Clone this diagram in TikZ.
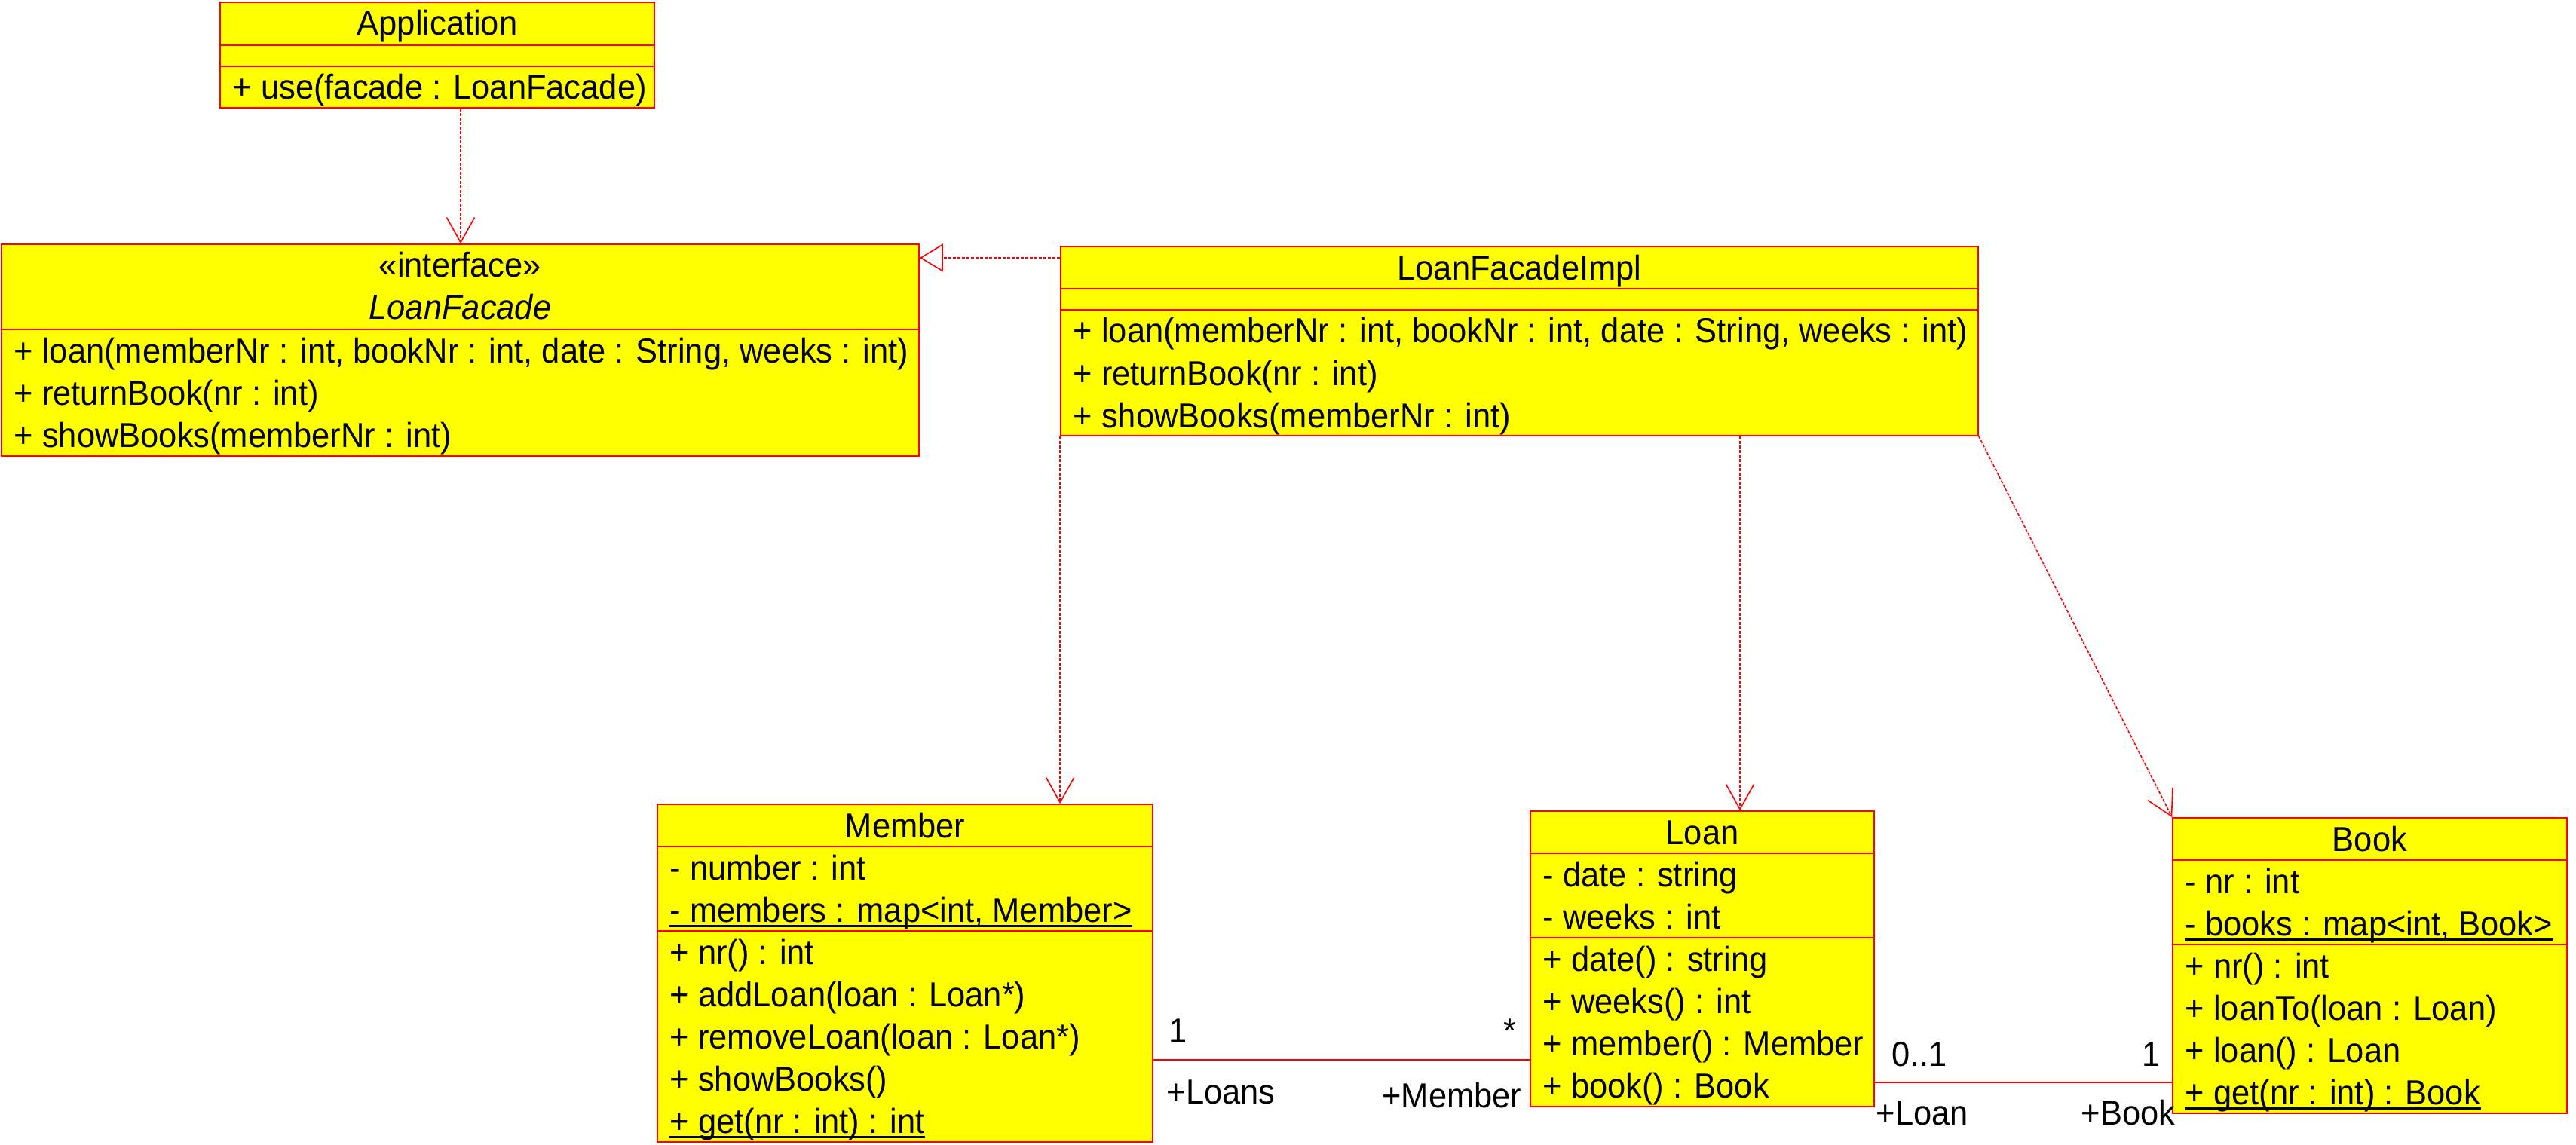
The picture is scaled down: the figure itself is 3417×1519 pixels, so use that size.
\documentclass[tikz,border=0pt]{standalone}
\usepackage{fontspec}
\setmainfont[FakeStretch=0.945]{Liberation Sans}
\usetikzlibrary{arrows.meta,fit}
\definecolor{umlred}{RGB}{255,0,0}
\definecolor{umlyellow}{RGB}{255,255,0}
\newcommand\umlfont{\fontsize{11.5pt}{13pt}\selectfont}
\begin{document}
\begin{tikzpicture}[x=0.25pt,y=-0.25pt,
 umlcls/.style={draw=umlred, fill=umlyellow, line width=0.4pt, inner sep=0pt},
 umlsep/.style={draw=umlred, line width=0.4pt},
 umltxt/.style={inner sep=0pt, anchor=base west, font=\umlfont, text=black},
 umlctxt/.style={inner sep=0pt, anchor=base, font=\umlfont, text=black},
 umlul/.style={line width=0.7pt, draw=black},
 umldep/.style={draw=umlred, line width=0.4pt, dash pattern=on 1pt off 0.5pt, -{Straight Barb[length=8.25pt,width=9.25pt]}},
 umlreal/.style={draw=umlred, line width=0.4pt, dash pattern=on 1pt off 0.5pt, -{Triangle[open,length=7.75pt,width=9.25pt]}},
 umlassoc/.style={draw=umlred, line width=0.4pt}]
\fill[white] (0,0) rectangle (3417,1519);
\useasboundingbox (0,0) rectangle (3417,1519);

% ---------- Application ----------
\node[umlcls, fit={(292,3) (868,143)}] (app) {};
\draw[umlsep] (app.west |- 0,60) -- (app.east |- 0,60);
\draw[umlsep] (app.west |- 0,88) -- (app.east |- 0,88);
\node[umlctxt] (appname) at (580,47) {Application};
\node[umltxt] (appm1) at (308,132) {+ use(facade : LoanFacade)};

% ---------- LoanFacade ----------
\node[umlcls, fit={(2,324) (1219,605)}] (facade) {};
\draw[umlsep] (facade.west |- 0,437) -- (facade.east |- 0,437);
\node[umlctxt] (facst) at (610.5,368) {«interface»};
\node[umlctxt] (facname) at (610.5,424) {\itshape LoanFacade};
\node[umltxt] (facm1) at (18,481) {+ loan(memberNr : int, bookNr : int, date : String, weeks : int)};
\node[umltxt] (facm2) at (18,537) {+ returnBook(nr : int)};
\node[umltxt] (facm3) at (18,593) {+ showBooks(memberNr : int)};

% ---------- LoanFacadeImpl ----------
\node[umlcls, fit={(1407,327) (2624,578)}] (impl) {};
\draw[umlsep] (impl.west |- 0,383) -- (impl.east |- 0,383);
\draw[umlsep] (impl.west |- 0,411) -- (impl.east |- 0,411);
\node[umlctxt] (implname) at (2015.5,371) {LoanFacadeImpl};
\node[umltxt] (implm1) at (1423,455) {+ loan(memberNr : int, bookNr : int, date : String, weeks : int)};
\node[umltxt] (implm2) at (1423,511) {+ returnBook(nr : int)};
\node[umltxt] (implm3) at (1423,567) {+ showBooks(memberNr : int)};

% ---------- Member ----------
\node[umlcls, fit={(872,1067) (1529,1515)}] (member) {};
\draw[umlsep] (member.west |- 0,1123) -- (member.east |- 0,1123);
\draw[umlsep] (member.west |- 0,1235) -- (member.east |- 0,1235);
\node[umlctxt] (memname) at (1200.5,1111) {Member};
\node[umltxt] (mema1) at (888,1167) {- number : int};
\node[umltxt] (mema2) at (888,1223) {- members : map<int, Member>};
\node[umltxt] (memm1) at (888,1279) {+ nr() : int};
\node[umltxt] (memm2) at (888,1335) {+ addLoan(loan : Loan*)};
\node[umltxt] (memm3) at (888,1391) {+ removeLoan(loan : Loan*)};
\node[umltxt] (memm4) at (888,1447) {+ showBooks()};
\node[umltxt] (memm5) at (888,1503) {+ get(nr : int) : int};
\draw[umlul] ([yshift=-1.3pt]mema2.base west) -- ([yshift=-1.3pt]mema2.base east);
\draw[umlul] ([yshift=-1.3pt]memm5.base west) -- ([yshift=-1.3pt]memm5.base east);

% ---------- Loan ----------
\node[umlcls, fit={(2030,1076) (2486,1468)}] (loan) {};
\draw[umlsep] (loan.west |- 0,1132) -- (loan.east |- 0,1132);
\draw[umlsep] (loan.west |- 0,1244) -- (loan.east |- 0,1244);
\node[umlctxt] (loanname) at (2258,1120) {Loan};
\node[umltxt] (loana1) at (2046,1176) {- date : string};
\node[umltxt] (loana2) at (2046,1232) {- weeks : int};
\node[umltxt] (loanm1) at (2046,1288) {+ date() : string};
\node[umltxt] (loanm2) at (2046,1344) {+ weeks() : int};
\node[umltxt] (loanm3) at (2046,1400) {+ member() : Member};
\node[umltxt] (loanm4) at (2046,1456) {+ book() : Book};

% ---------- Book ----------
\node[umlcls, fit={(2882,1085) (3405,1477)}] (book) {};
\draw[umlsep] (book.west |- 0,1141) -- (book.east |- 0,1141);
\draw[umlsep] (book.west |- 0,1253) -- (book.east |- 0,1253);
\node[umlctxt] (bookname) at (3143.5,1129) {Book};
\node[umltxt] (booka1) at (2898,1185) {- nr : int};
\node[umltxt] (booka2) at (2898,1241) {- books : map<int, Book>};
\node[umltxt] (bookm1) at (2898,1297) {+ nr() : int};
\node[umltxt] (bookm2) at (2898,1353) {+ loanTo(loan : Loan)};
\node[umltxt] (bookm3) at (2898,1409) {+ loan() : Loan};
\node[umltxt] (bookm4) at (2898,1465) {+ get(nr : int) : Book};
\draw[umlul] ([yshift=-1.3pt]booka2.base west) -- ([yshift=-1.3pt]booka2.base east);
\draw[umlul] ([yshift=-1.3pt]bookm4.base west) -- ([yshift=-1.3pt]bookm4.base east);

% ---------- connectors ----------
\draw[umldep] (app.south -| 611,0) -- (facade.north -| 611,0);
\draw[umlreal] (impl.west |- 0,342) -- (facade.east |- 0,342);
\draw[umldep] (impl.south west) -- (impl.south west |- member.north);
\draw[umldep] (impl.south -| 2308,0) -- (loan.north -| 2308,0);
\draw[umldep] (impl.south east) -- (book.north west);
\draw[umlassoc] (member.east |- 0,1406) -- (loan.west |- 0,1406);
\draw[umlassoc] (loan.east |- 0,1436) -- (book.west |- 0,1436);

% ---------- association labels ----------
\node[umltxt] (ml1) at (1550,1383) {1};
\node[umltxt] (ml2) at (1547,1464) {+Loans};
\node[umlctxt] (ml3) at (2003,1383) {*};
\node[umltxt, anchor=base east] (ml4) at (2019,1469) {+Member};
\node[umltxt] (bl1) at (2509,1414) {0..1};
\node[umltxt, anchor=base east] (bl2) at (2866,1414) {1};
\node[umltxt] (bl3) at (2488,1492) {+Loan};
\node[umltxt, anchor=base east] (bl4) at (2886,1492) {+Book};
\end{tikzpicture}
\end{document}
